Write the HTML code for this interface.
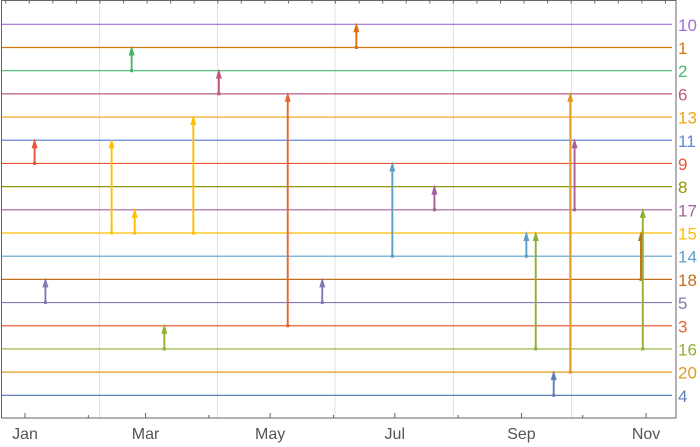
<!DOCTYPE html>
<html><head><meta charset="utf-8"><style>
body{margin:0;background:#fff}
svg{display:block;font-family:"Liberation Sans",sans-serif}
</style></head><body>
<svg id="chart" width="700" height="447" viewBox="0 0 700 447"></svg>
<script>
// level labels top to bottom and their colours
const levelLabels = ["10","1","2","6","13","11","9","8","17","15","14","18","5","3","16","20","4"];
const levelColors = ["#9f6fd8","#d9730d","#47b66d","#bc5b80","#f89f13","#6685d9","#e95536","#929600","#a5609d","#ffbf00","#5d9ec7","#c56e1a","#8778b3","#eb6235","#8fb032","#e19c24","#5e81b5"];
// arrows: day of year, from level, to level
const arrowDays = [4.7,10,42.4,53.7,52.2,68.2,82.4,94.9,128.6,145.5,162.2,179.8,200.4,245.4,250,258.8,266.9,269,301.5,302.4];
const arrowFrom = ["9","5","15","15","2","16","15","6","3","5","1","14","17","14","16","4","20","17","18","16"];
const arrowTo   = ["11","18","11","17","1","3","13","2","6","18","10","9","8","15","15","20","6","11","15","17"];
const monthTicks = [0,59,120,181,243,304];
const monthLabels = ["Jan","Mar","May","Jul","Sep","Nov"];
const minorMonthDays = [31,90,151,212,273];
const gridDays = [36.5,94.2,151.7,209.7,267.5];

const svg = document.getElementById('chart');
const NS = "http://www.w3.org/2000/svg";
const L=1.5,R=676,T=0.5,B=418;
const xOf = d => 25 + d*2.043;
const yOf = lab => 24.3 + levelLabels.indexOf(lab)*23.19;
function mk(tag, attrs){const e=document.createElementNS(NS,tag);for(const k in attrs)e.setAttribute(k,attrs[k]);svg.appendChild(e);return e;}

gridDays.forEach(d=>{
  const g=mk('line',{x1:xOf(d),x2:xOf(d),y1:T,y2:B,stroke:'#e0e0e0','stroke-width':1});
  
  
});
levelLabels.forEach((lab,i)=>{
  const y=yOf(lab);
  const ln=mk('line',{x1:L,x2:672,y1:y,y2:y,stroke:levelColors[i],'stroke-width':1.2});
  
  
  const t=mk('text',{x:678,y:y+6.5,fill:levelColors[i],'font-size':17});
  t.textContent=lab;
  
  
});
// frame
const fr=mk('rect',{x:L,y:T,width:R-L,height:B-T,fill:'none',stroke:'#666','stroke-width':1});


// top ticks
for(let k=-1;k<=27;k++){
  const x=29.3+k*23.56;
  const tk=mk('line',{x1:x,x2:x,y1:T,y2:T+3,stroke:'#666','stroke-width':1});
  
  
}
monthTicks.forEach((d,i)=>{
  const x=xOf(d);
  const tk=mk('line',{x1:x,x2:x,y1:B,y2:B-5,stroke:'#666','stroke-width':1});
  
  
  const t=mk('text',{x:x,y:439,fill:'#555','font-size':16,'text-anchor':'middle'});
  t.textContent=monthLabels[i];
  
  
});
minorMonthDays.forEach(d=>{
  const x=xOf(d);
  const tk=mk('line',{x1:x,x2:x,y1:B,y2:B-3,stroke:'#666','stroke-width':1});
  
  
});
arrowDays.forEach((d,i)=>{
  const x=xOf(d), y0=yOf(arrowFrom[i]), y1=yOf(arrowTo[i]);
  const c=levelColors[levelLabels.indexOf(arrowFrom[i])];
  const g=document.createElementNS(NS,'g');svg.appendChild(g);
  
  
  const ln=document.createElementNS(NS,'line');
  [['x1',x],['x2',x],['y1',y0],['y2',y1+6],['stroke',c],['stroke-width',1.9]].forEach(a=>ln.setAttribute(a[0],a[1]));
  g.appendChild(ln);
  const dot=document.createElementNS(NS,'rect');
  [['x',x-1.5],['y',y0-1.5],['width',3],['height',3],['fill',c]].forEach(a=>dot.setAttribute(a[0],a[1]));
  g.appendChild(dot);
  const hd=document.createElementNS(NS,'polygon');
  hd.setAttribute('points',`${x},${y1-2} ${x-3},${y1+8} ${x+3},${y1+8}`);
  hd.setAttribute('fill',c);
  g.appendChild(hd);
});
</script>
</body></html>
